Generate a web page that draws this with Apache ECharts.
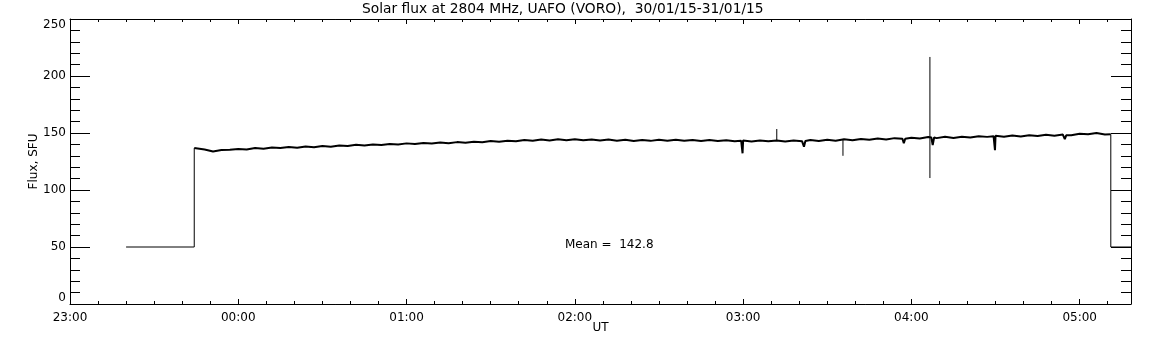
<!DOCTYPE html>
<html>
<head>
<meta charset="utf-8">
<script src="https://cdn.jsdelivr.net/npm/echarts@6/dist/echarts.min.js"></script>
<style>
  html, body { margin: 0; background: #fff; }
  #chart { width: 1152px; height: 345px; }
</style>
</head>
<body>
<div id="chart"></div>
<script>
// x is minutes after 23:00 UT
const tickLabels = ["23:00", "00:00", "01:00", "02:00", "03:00", "04:00", "05:00"];
const xMax = 378.3;

// receiver off / on
const offLevel = 50;
const offStart = 20.0;
const onAt = 44.3;
const onLevel = 136.8;
const offAt = 371.1;
const lastLevel = 148.8;

// flux every 3 min from 23:45
const sampleStart = 45;
const sampleStep = 3;
const flux = [
  137.4, 135.6, 133.8, 135.0, 135.4, 136.0, 135.6, 136.8, 136.2, 137.2,
  136.8, 137.8, 137.0, 138.2, 137.6, 138.6, 138.0, 139.0, 138.6, 139.6,
  139.0, 140.0, 139.4, 140.4, 139.9, 140.9, 140.3, 141.2, 140.7, 141.6,
  141.0, 142.0, 141.5, 142.4, 141.9, 142.9, 142.3, 143.3, 142.7, 143.8,
  143.2, 144.2, 143.5, 144.5, 143.7, 144.5, 143.6, 144.4, 143.5, 144.2,
  143.3, 144.1, 143.0, 143.9, 143.1, 144.1, 143.2, 144.0, 143.1, 143.9,
  143.0, 143.8, 142.9, 143.7, 142.8, 143.5, 142.6, 143.5, 142.7, 143.4,
  142.6, 143.4, 142.8, 143.9, 143.0, 144.1, 143.3, 144.5, 143.6, 144.8,
  144.0, 145.1, 144.3, 145.5, 144.6, 145.8, 145.2, 146.5, 145.5, 146.7,
  145.7, 146.8, 146.0, 147.1, 146.6, 147.5, 146.7, 147.9, 147.0, 148.1,
  147.3, 148.4, 147.6, 148.6, 148.0, 149.4, 149.0, 150.0, 148.7
];

// short dips: minute, level either side, bottom
const dips = [
  [239.8, 143.2, 132.2],
  [261.7, 143.0, 138.0],
  [297.3, 145.0, 141.0],
  [307.6, 146.0, 139.5],
  [329.8, 147.2, 135.0],
  [354.7, 148.0, 144.7]
];

// single-sample spikes: minute, from, to
const spikes = [
  [252.0, 143.0, 153.5],
  [275.6, 144.0, 130.0],
  [306.6, 216.7, 110.5]
];

const meanFlux = 142.8;

const font = "DejaVu Sans";

let mainData = [[onAt, onLevel]];
flux.forEach((v, i) => {
  mainData.push([sampleStart + i * sampleStep, v]);
});
dips.forEach((d) => {
  mainData.push([d[0] - 0.5, d[1]]);
  mainData.push([d[0], d[2]]);
  mainData.push([d[0] + 0.5, d[1]]);
});
mainData.push([offAt, lastLevel]);
mainData.sort((a, b) => a[0] - b[0]);

let series = [
  {
    type: "line",
    data: mainData,
    symbol: "none",
    lineStyle: { color: "#000", width: 2 },
    animation: false,
  },
  {
    type: "line",
    data: [[offStart, offLevel], [onAt, offLevel], [onAt, onLevel]],
    symbol: "none",
    lineStyle: { color: "#000", width: 1 },
    animation: false,
  },
  {
    type: "line",
    data: [[offAt, lastLevel], [offAt, offLevel], [xMax, offLevel]],
    symbol: "none",
    lineStyle: { color: "#000", width: 1 },
    animation: false,
  },
];
spikes.forEach((s) => {
  series.push({
    type: "line",
    data: [[s[0], s[1]], [s[0], s[2]]],
    symbol: "none",
    lineStyle: { color: "#000", width: 1 },
    animation: false,
  });
});

function axisLine() {
  return { show: true, onZero: false, lineStyle: { color: "#000", width: 1 } };
}

function xAxisOpt(position, labels) {
  return {
    type: "value",
    position: position,
    min: 0,
    max: xMax,
    interval: 60,
    axisLine: axisLine(),
    axisTick: { show: true, inside: true, length: 5, lineStyle: { color: "#000" } },
    minorTick: { show: true, splitNumber: 6, length: 3, lineStyle: { color: "#000" } },
    splitLine: { show: false },
    axisLabel: {
      show: labels,
      showMaxLabel: false,
      margin: 8,
      color: "#000",
      fontFamily: font,
      fontSize: 12,
      formatter: (v) => tickLabels[Math.round(v / 60)] || "",
    },
  };
}

function yAxisOpt(position, labels) {
  return {
    type: "value",
    position: position,
    min: 0,
    max: 250,
    interval: 50,
    axisLine: axisLine(),
    axisTick: { show: true, inside: true, length: 20, lineStyle: { color: "#000" } },
    minorTick: { show: true, splitNumber: 5, length: 10, lineStyle: { color: "#000" } },
    splitLine: { show: false },
    axisLabel: {
      show: labels,
      margin: 4,
      color: "#000",
      fontFamily: font,
      fontSize: 12,
      verticalAlignMinLabel: "bottom",
      verticalAlignMaxLabel: "top",
    },
  };
}

let xBottom = xAxisOpt("bottom", true);
xBottom.name = "UT";
xBottom.nameLocation = "middle";
xBottom.nameGap = 18;
xBottom.nameMoveOverlap = false;
xBottom.nameTextStyle = { color: "#000", fontFamily: font, fontSize: 12 };

let yLeft = yAxisOpt("left", true);
yLeft.name = "Flux, SFU";
yLeft.nameLocation = "middle";
yLeft.nameGap = 30;
yLeft.nameMoveOverlap = false;
yLeft.nameTextStyle = { color: "#000", fontFamily: font, fontSize: 12 };

let myChart = echarts.init(document.getElementById("chart"));
let option = {
  backgroundColor: "#fff",
  animation: false,
  title: {
    text: "Solar flux at 2804 MHz, UAFO (VORO),  30/01/15-31/01/15",
    left: 362,
    top: 2,
    padding: 0,
    textStyle: { color: "#000", fontFamily: font, fontSize: 13.8, fontWeight: "normal" },
  },
  grid: { left: 70, right: 21, top: 19, bottom: 41, containLabel: false },
  xAxis: [xBottom, xAxisOpt("top", false)],
  yAxis: [yLeft, yAxisOpt("right", false)],
  graphic: [
    {
      type: "text",
      left: 565,
      top: 239,
      style: {
        text: "Mean =  " + meanFlux.toFixed(1),
        fill: "#000",
        font: "12px " + font,
      },
    },
  ],
  series: series,
};
myChart.setOption(option);
</script>
</body>
</html>
